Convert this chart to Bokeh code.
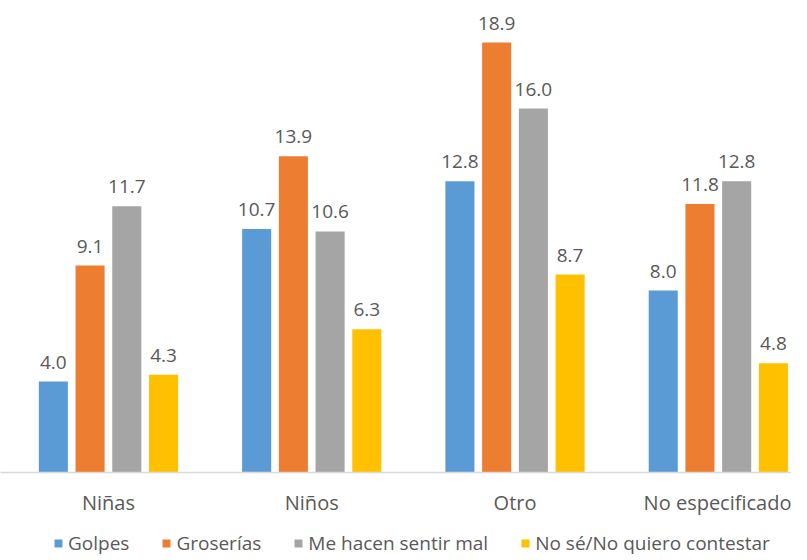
from bokeh.plotting import figure
from bokeh.layouts import column
from bokeh.models import ColumnDataSource, Range1d, FixedTicker, Legend, LegendItem
from bokeh.transform import dodge
from bokeh.core.properties import value
from bokeh.embed import file_html
from bokeh.resources import INLINE

categories = ["Niñas", "Niños", "Otro", "No especificado"]
series = ["Golpes", "Groserías", "Me hacen sentir mal", "No sé/No quiero contestar"]
golpes = [4.0, 10.7, 12.8, 8.0]
groserias = [9.1, 13.9, 18.9, 11.8]
sentir_mal = [11.7, 10.6, 16.0, 12.8]
no_se = [4.3, 6.3, 8.7, 4.8]

colors = ["#5B9BD5", "#ED7D31", "#A5A5A5", "#FFC000"]
FONT = "Open Sans"

data = {"x": list(range(len(categories)))}
cols = ["golpes", "groserias", "sentir_mal", "no_se"]
for c, vals in zip(cols, [golpes, groserias, sentir_mal, no_se]):
    data[c] = vals
    data[c + "_lbl"] = [f"{v:.1f}" for v in vals]
src = ColumnDataSource(data)

p = figure(frame_width=791, frame_height=472, x_range=Range1d(-0.531, 3.360), y_range=Range1d(0, 20.75),
           output_backend="svg", toolbar_location=None,
           min_border_left=0, min_border_right=0, min_border_top=0, min_border_bottom=0)

offsets = [-0.271, -0.0903, 0.0903, 0.271]
for c, col, off in zip(cols, colors, offsets):
    p.vbar(x=dodge("x", off, range=p.x_range), top=c, width=0.143, source=src,
           fill_color=col, line_color=None)
    p.text(x=dodge("x", off, range=p.x_range), y=c, text=c + "_lbl", source=src,
           text_align="center", text_baseline="bottom", y_offset=-13,
           text_font=value(FONT), text_font_size="19px", text_color="#595959")

p.yaxis.visible = False
p.xgrid.visible = False
p.ygrid.visible = False
p.outline_line_color = None

p.xaxis.ticker = FixedTicker(ticks=list(range(len(categories))))
p.xaxis.major_label_overrides = {i: c for i, c in enumerate(categories)}
p.xaxis.major_tick_line_color = None
p.xaxis.minor_tick_line_color = None
p.xaxis.major_tick_out = 0
p.xaxis.major_tick_in = 0
p.xaxis.axis_line_color = "#D9D9D9"
p.xaxis.axis_line_width = 1.5
p.xaxis.major_label_standoff = 16
p.xaxis.major_label_text_font = FONT
p.xaxis.major_label_text_font_size = "20px"
p.xaxis.major_label_text_color = "#595959"

# legend strip below the chart; its bars fall outside its visible range
lg = figure(frame_width=791, frame_height=40, x_range=Range1d(100, 101), y_range=Range1d(100, 101),
            x_axis_type=None, y_axis_type=None, output_backend="svg", toolbar_location=None,
            min_border_left=0, min_border_right=0, min_border_top=0, min_border_bottom=0)
lg.xgrid.visible = False
lg.ygrid.visible = False
lg.outline_line_color = None
items = []
for c, s, col in zip(cols, series, colors):
    r = lg.vbar(x="x", top=c, width=0.1, source=src, fill_color=col, line_color=None)
    items.append(LegendItem(label=s, renderers=[r]))
legend = Legend(items=items, orientation="horizontal", location=(53, 2),
                glyph_width=10, glyph_height=10, label_standoff=5, spacing=32,
                label_text_font=FONT, label_text_font_size="19px", label_text_color="#595959",
                border_line_color=None, background_fill_alpha=0, padding=2, margin=0)
lg.add_layout(legend, "center")

layout = column(p, lg, spacing=0)
open("out.html", "w").write(file_html(layout, INLINE))
